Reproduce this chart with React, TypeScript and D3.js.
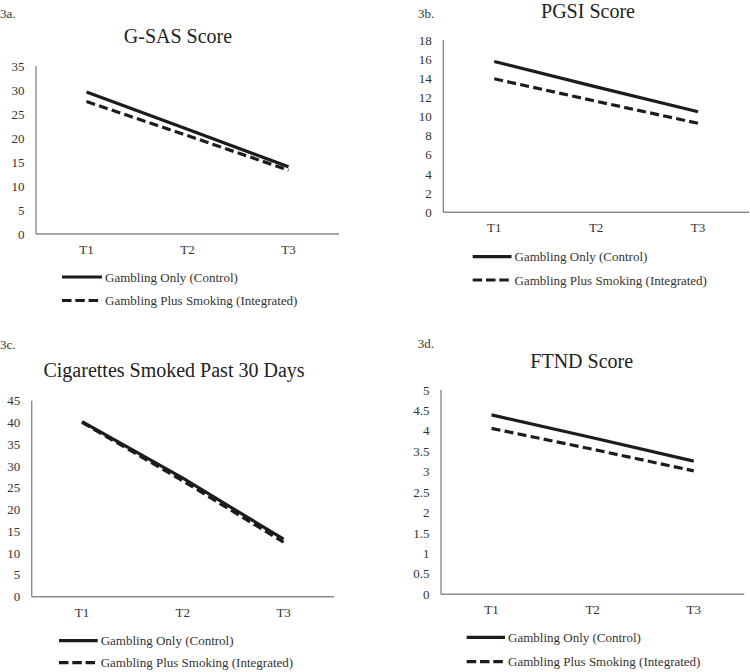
import React from "react";
import * as d3 from "d3";

const timepoints = ["T1", "T2", "T3"];
const seriesNames = ["Gambling Only (Control)", "Gambling Plus Smoking (Integrated)"];

const gsasControl = [29.6, 21.8, 14.0];
const gsasIntegrated = [27.6, 20.5, 13.3];
const pgsiControl = [15.75, 13.1, 10.5];
const pgsiIntegrated = [13.95, 11.6, 9.3];
const cigControl = [40.2, 27.2, 13.2];
const cigIntegrated = [40.0, 26.6, 12.5];
const ftndControl = [4.39, 3.83, 3.26];
const ftndIntegrated = [4.06, 3.55, 3.02];

const gsasTicks = [0, 5, 10, 15, 20, 25, 30, 35];
const pgsiTicks = [0, 2, 4, 6, 8, 10, 12, 14, 16, 18];
const cigTicks = [0, 5, 10, 15, 20, 25, 30, 35, 40, 45];
const ftndTicks = [0, 0.5, 1, 1.5, 2, 2.5, 3, 3.5, 4, 4.5, 5];

const FONT = "Liberation Serif";
const LINE = "#1c1c1c";
const AXIS = "#8a8a8a";
const TXT = "#333";
const DASH = "9 4.3";

type PanelProps = {
  tag: string;
  tagX: number;
  tagY: number;
  title: string;
  titleX: number;
  titleY: number;
  x0: number;
  x1: number;
  yTop: number;
  yBottom: number;
  ticks: number[];
  control: number[];
  integrated: number[];
  legX0: number;
  legX1: number;
  legY1: number;
  legY2: number;
};

function Panel(p: PanelProps) {
  const x = d3.scalePoint<string>().domain(timepoints).range([p.x0, p.x1]).padding(0.5);
  const ymax = p.ticks[p.ticks.length - 1];
  const y = d3.scaleLinear().domain([0, ymax]).range([p.yBottom, p.yTop]);
  const line = d3
    .line<number>()
    .x((_, i) => x(timepoints[i]) as number)
    .y((d) => y(d));
  const fmt = (v: number) => String(v);
  return (
    <g>
      <text x={p.tagX} y={p.tagY} fontSize={13} fill={TXT} fontFamily={FONT}>
        {p.tag}
      </text>
      <text x={p.titleX} y={p.titleY} fontSize={20} fill="#222" textAnchor="middle" fontFamily={FONT}>
        {p.title}
      </text>
      {p.ticks.map((t) => (
        <text
          key={t}
          x={p.x0 - 11.5}
          y={y(t)}
          dy="0.35em"
          textAnchor="end"
          fontSize={13}
          fill={TXT}
          fontFamily={FONT}
        >
          {fmt(t)}
        </text>
      ))}
      {timepoints.map((t) => (
        <text
          key={t}
          x={x(t)}
          y={p.yBottom + 20}
          textAnchor="middle"
          fontSize={13}
          fill={TXT}
          fontFamily={FONT}
        >
          {t}
        </text>
      ))}
      <line x1={p.x0} x2={p.x0} y1={p.yTop} y2={p.yBottom} stroke={AXIS} strokeWidth={1.4} />
      <line x1={p.x0} x2={p.x1} y1={p.yBottom} y2={p.yBottom} stroke={AXIS} strokeWidth={1.4} />
      <path d={line(p.control) || ""} fill="none" stroke={LINE} strokeWidth={3.2} />
      <path d={line(p.integrated) || ""} fill="none" stroke={LINE} strokeWidth={3.2} strokeDasharray={DASH} />
      <line x1={p.legX0} x2={p.legX1} y1={p.legY1} y2={p.legY1} stroke={LINE} strokeWidth={3.2} />
      <text x={p.legX1 + 3} y={p.legY1} dy="0.35em" fontSize={13} fill={TXT} fontFamily={FONT}>
        {seriesNames[0]}
      </text>
      <line
        x1={p.legX0}
        x2={p.legX1}
        y1={p.legY2}
        y2={p.legY2}
        stroke={LINE}
        strokeWidth={3.2}
        strokeDasharray="9.5 3.8"
      />
      <text x={p.legX1 + 3} y={p.legY2} dy="0.35em" fontSize={13} fill={TXT} fontFamily={FONT}>
        {seriesNames[1]}
      </text>
    </g>
  );
}

export default function App() {
  return (
    <svg
      width={750}
      height={672}
      style={{ position: "absolute", left: 0, top: 0, background: "#fff" }}
    >
      <rect x={0} y={0} width={750} height={672} fill="#fff" />
      <Panel
        tag="3a."
        tagX={0}
        tagY={18}
        title="G-SAS Score"
        titleX={178}
        titleY={43}
        x0={36}
        x1={339}
        yTop={66}
        yBottom={234}
        ticks={gsasTicks}
        control={gsasControl}
        integrated={gsasIntegrated}
        legX0={62}
        legX1={102}
        legY1={277}
        legY2={300.5}
      />
      <Panel
        tag="3b."
        tagX={418}
        tagY={18}
        title="PGSI Score"
        titleX={588}
        titleY={17.5}
        x0={443.3}
        x1={749}
        yTop={40}
        yBottom={212.3}
        ticks={pgsiTicks}
        control={pgsiControl}
        integrated={pgsiIntegrated}
        legX0={472.7}
        legX1={511.5}
        legY1={256.7}
        legY2={280}
      />
      <Panel
        tag="3c."
        tagX={0}
        tagY={349}
        title="Cigarettes Smoked Past 30 Days"
        titleX={174}
        titleY={376.5}
        x0={31.7}
        x1={334}
        yTop={400.7}
        yBottom={596.7}
        ticks={cigTicks}
        control={cigControl}
        integrated={cigIntegrated}
        legX0={59}
        legX1={97.7}
        legY1={640.7}
        legY2={662.7}
      />
      <Panel
        tag="3d."
        tagX={417.7}
        tagY={348}
        title="FTND Score"
        titleX={581.7}
        titleY={368}
        x0={441}
        x1={744.3}
        yTop={390}
        yBottom={594.3}
        ticks={ftndTicks}
        control={ftndControl}
        integrated={ftndIntegrated}
        legX0={466.7}
        legX1={505}
        legY1={637.3}
        legY2={661.7}
      />
    </svg>
  );
}
